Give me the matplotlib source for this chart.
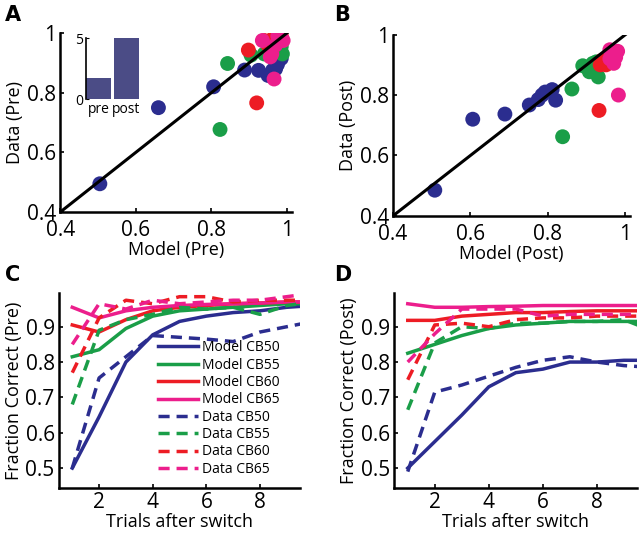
import numpy as np
import matplotlib.pyplot as plt

plt.rcParams['font.family'] = ['Open Sans', 'DejaVu Sans']

BLUE = '#2b2d8f'
GREEN = '#1a9e48'
RED = '#ed1c24'
MAGENTA = '#ec1e8c'
BAR = '#4b4c86'

# scatter A (pre): model vs data
pre_blue_x = [0.505, 0.66, 0.806, 0.888, 0.925, 0.95, 0.962, 0.975, 0.985, 0.97]
pre_blue_y = [0.495, 0.75, 0.82, 0.876, 0.875, 0.858, 0.875, 0.895, 0.915, 0.88]
pre_green_x = [0.843, 0.823, 0.905, 0.94, 0.96, 0.988, 0.985, 0.95]
pre_green_y = [0.898, 0.677, 0.926, 0.93, 0.945, 0.93, 0.955, 0.94]
pre_red_x = [0.898, 0.92, 0.94, 0.965, 0.975, 0.985, 0.95]
pre_red_y = [0.943, 0.766, 0.975, 0.985, 0.97, 0.99, 0.96]
pre_mag_x = [0.966, 0.935, 0.956, 0.976, 0.985, 0.97, 0.96, 0.99, 0.98]
pre_mag_y = [0.846, 0.975, 0.92, 0.99, 0.985, 0.96, 0.93, 0.975, 0.995]

# scatter B (post)
post_blue_x = [0.508, 0.606, 0.689, 0.752, 0.775, 0.785, 0.793, 0.811, 0.82]
post_blue_y = [0.485, 0.72, 0.737, 0.767, 0.785, 0.80, 0.81, 0.818, 0.783]
post_green_x = [0.838, 0.862, 0.89, 0.916, 0.907, 0.93, 0.925, 0.905]
post_green_y = [0.662, 0.82, 0.897, 0.905, 0.877, 0.86, 0.91, 0.89]
post_red_x = [0.932, 0.935, 0.945, 0.955, 0.95, 0.94]
post_red_y = [0.749, 0.90, 0.91, 0.92, 0.90, 0.915]
post_mag_x = [0.982, 0.96, 0.97, 0.97, 0.96, 0.98, 0.975, 0.965]
post_mag_y = [0.80, 0.95, 0.935, 0.905, 0.92, 0.945, 0.925, 0.94]

# inset bars
inset_labels = ['pre', 'post']
inset_values = [1.7, 5.0]

# learning curves
trials = np.arange(1, 11)
pre_model = {
    'CB50': [0.50, 0.645, 0.80, 0.877, 0.915, 0.93, 0.94, 0.945, 0.955, 0.96],
    'CB55': [0.815, 0.835, 0.895, 0.93, 0.945, 0.95, 0.955, 0.96, 0.965, 0.965],
    'CB60': [0.905, 0.885, 0.92, 0.945, 0.955, 0.96, 0.965, 0.967, 0.97, 0.97],
    'CB65': [0.955, 0.925, 0.945, 0.955, 0.96, 0.963, 0.965, 0.967, 0.97, 0.97],
}
pre_data = {
    'CB50': [0.50, 0.755, 0.815, 0.875, 0.87, 0.865, 0.858, 0.885, 0.90, 0.915],
    'CB55': [0.68, 0.89, 0.92, 0.935, 0.955, 0.95, 0.955, 0.935, 0.96, 0.97],
    'CB60': [0.77, 0.925, 0.975, 0.965, 0.985, 0.985, 0.97, 0.975, 0.975, 0.975],
    'CB65': [0.85, 0.965, 0.95, 0.975, 0.965, 0.97, 0.975, 0.975, 0.985, 0.995],
}
post_model = {
    'CB50': [0.50, 0.575, 0.65, 0.73, 0.77, 0.78, 0.80, 0.80, 0.805, 0.805],
    'CB55': [0.825, 0.85, 0.875, 0.895, 0.905, 0.91, 0.915, 0.915, 0.915, 0.915],
    'CB60': [0.918, 0.918, 0.93, 0.935, 0.94, 0.94, 0.943, 0.945, 0.945, 0.945],
    'CB65': [0.965, 0.955, 0.955, 0.957, 0.958, 0.96, 0.96, 0.96, 0.96, 0.96],
}
post_data = {
    'CB50': [0.49, 0.715, 0.735, 0.76, 0.785, 0.805, 0.815, 0.80, 0.79, 0.785],
    'CB55': [0.665, 0.854, 0.90, 0.895, 0.91, 0.91, 0.915, 0.915, 0.92, 0.89],
    'CB60': [0.75, 0.905, 0.91, 0.90, 0.92, 0.925, 0.925, 0.93, 0.93, 0.93],
    'CB65': [0.80, 0.88, 0.95, 0.95, 0.95, 0.93, 0.935, 0.935, 0.935, 0.935],
}
cb_colors = {'CB50': BLUE, 'CB55': GREEN, 'CB60': RED, 'CB65': MAGENTA}

TICK_FS = 15
LABEL_FS = 13


def style_axes(ax):
    for s in ['top', 'right']:
        ax.spines[s].set_visible(False)
    for s in ['left', 'bottom']:
        ax.spines[s].set_linewidth(1.8)
    ax.tick_params(direction='in', length=3, width=1.2, labelsize=TICK_FS, pad=3)


fig = plt.figure(figsize=(6.4, 5.33), dpi=100)

# ---- scatter panels
scat = [
    ([0.094, 0.602, 0.362, 0.336], 'Pre',
     [(pre_blue_x, pre_blue_y, BLUE), (pre_green_x, pre_green_y, GREEN),
      (pre_red_x, pre_red_y, RED), (pre_mag_x, pre_mag_y, MAGENTA)]),
    ([0.614, 0.595, 0.371, 0.34], 'Post',
     [(post_blue_x, post_blue_y, BLUE), (post_green_x, post_green_y, GREEN),
      (post_red_x, post_red_y, RED), (post_mag_x, post_mag_y, MAGENTA)]),
]
for rect, tag, groups in scat:
    ax = fig.add_axes(rect)
    for xs, ys, c in groups:
        ax.scatter(xs, ys, s=115, color=c, edgecolors='none', zorder=2)
    ax.plot([0.4, 1.0], [0.4, 1.0], color='black', lw=2.2, zorder=3)
    ax.set_xlim(0.4, 1.013)
    ax.set_ylim(0.4, 1.0)
    ax.set_xticks([0.4, 0.6, 0.8, 1.0])
    ax.set_xticklabels(['0.4', '0.6', '0.8', '1'])
    ax.set_yticks([0.4, 0.6, 0.8, 1.0])
    ax.set_yticklabels(['0.4', '0.6', '0.8', '1'])
    style_axes(ax)
    ax.tick_params(axis='x', pad=6)
    ax.set_xlabel('Model (%s)' % tag, fontsize=LABEL_FS, labelpad=0)
    ax.set_ylabel('Data (%s)' % tag, fontsize=LABEL_FS, labelpad=2)

# inset in A
axi = fig.add_axes([0.134, 0.814, 0.083, 0.114])
axi.bar([1, 2], inset_values, width=0.9, color=BAR)
axi.set_xlim(0.55, 2.45)
axi.set_ylim(0, 5)
axi.set_yticks([0, 5])
axi.set_xticks([1, 2])
axi.set_xticklabels(inset_labels)
for s in ['top', 'right', 'bottom']:
    axi.spines[s].set_visible(False)
axi.spines['left'].set_linewidth(1.2)
axi.tick_params(axis='y', direction='in', length=2, labelsize=10, pad=2)
axi.tick_params(axis='x', length=0, labelsize=10, pad=2)

# ---- learning curve panels
curves = [
    ([0.092, 0.084, 0.377, 0.366], 'Pre', pre_model, pre_data, True),
    ([0.616, 0.084, 0.380, 0.366], 'Post', post_model, post_data, False),
]
for rect, tag, model, data, show_leg in curves:
    ax = fig.add_axes(rect)
    for k in ['CB50', 'CB55', 'CB60', 'CB65']:
        ax.plot(trials, model[k], color=cb_colors[k], lw=2.5, label='Model ' + k)
    for k in ['CB50', 'CB55', 'CB60', 'CB65']:
        ax.plot(trials, data[k], color=cb_colors[k], lw=2.5, ls='--',
                dashes=(3.2, 2.0), label='Data ' + k)
    ax.set_xlim(0.5, 9.5)
    ax.set_ylim(0.443, 0.995)
    ax.set_xticks([2, 4, 6, 8])
    ax.set_yticks([0.5, 0.6, 0.7, 0.8, 0.9])
    style_axes(ax)
    ax.set_xlabel('Trials after switch', fontsize=LABEL_FS, labelpad=0)
    ax.set_ylabel('Fraction Correct (%s)' % tag, fontsize=LABEL_FS, labelpad=2)
    if show_leg:
        ax.legend(loc='lower right', frameon=False, fontsize=10,
                  handlelength=2.9, handletextpad=0.3, labelspacing=0.17,
                  borderaxespad=0.0, bbox_to_anchor=(0.94, 0.03))

# panel letters
for x, y, t in [(0.008, 0.972, 'A'), (0.522, 0.972, 'B'),
                (0.008, 0.484, 'C'), (0.522, 0.484, 'D')]:
    fig.text(x, y, t, fontsize=15, fontweight='bold', family='DejaVu Sans',
             va='center')

fig.savefig('out.png', dpi=100)
